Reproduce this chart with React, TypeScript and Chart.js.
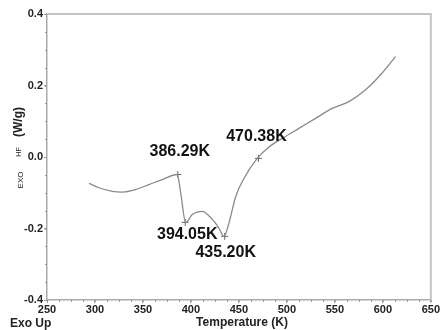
import { useEffect, useRef } from "react";
import { Chart, registerables } from "chart.js";
Chart.register(...registerables);

const temperatures = [293.8, 304.2, 318.0, 328.4, 342.4, 356.3, 370.1, 385.7, 389.3, 394.5, 401.4, 411.8, 420.8, 429.0, 434.4, 439.6, 446.6, 455.2, 469.1, 481.3, 495.1, 512.5, 529.9, 547.2, 564.6, 582.0, 599.3, 613.2];
const heatFlow = [-0.074, -0.086, -0.096, -0.098, -0.091, -0.077, -0.063, -0.049, -0.100, -0.183, -0.161, -0.152, -0.170, -0.198, -0.222, -0.185, -0.111, -0.060, -0.004, 0.028, 0.052, 0.080, 0.108, 0.136, 0.155, 0.188, 0.235, 0.281];
const markerTemps = [386.29, 394.05, 435.2, 470.38];
const markerFlows = [-0.049, -0.183, -0.222, -0.004];
const markerLabels = ["386.29K", "394.05K", "435.20K", "470.38K"];
const xTicks = [250, 300, 350, 400, 450, 500, 550, 600, 650];
const yTicks = [-0.4, -0.2, 0.0, 0.2, 0.4];

const FONT = "'Liberation Sans', Arial, sans-serif";

export default function App() {
  const ref = useRef<HTMLCanvasElement | null>(null);
  useEffect(() => {
    document.body.style.margin = "0";
    const canvas = ref.current;
    if (!canvas) return;
    const labelOffsets = [
      [2, -23],
      [2, 12],
      [1, 16],
      [-2, -22],
    ];
    const overlay = {
      id: "overlay",
      afterDraw(chart: any) {
        const ctx = chart.ctx;
        const xs = chart.scales.x;
        const ys = chart.scales.y;
        const a = chart.chartArea;
        ctx.save();
        // top and right border
        ctx.strokeStyle = "#c4c4c4";
        ctx.lineWidth = 2;
        ctx.beginPath();
        ctx.moveTo(a.left, a.top);
        ctx.lineTo(a.right, a.top);
        ctx.lineTo(a.right, a.bottom);
        ctx.stroke();
        // minor ticks
        ctx.strokeStyle = "#999";
        ctx.lineWidth = 1;
        ctx.beginPath();
        for (let v = 250; v <= 650; v += 12.5) {
          const px = Math.round(xs.getPixelForValue(v)) + 0.5;
          ctx.moveTo(px, a.bottom);
          ctx.lineTo(px, a.bottom + 2);
        }
        for (let v = -0.4; v <= 0.4001; v += 0.05) {
          const py = Math.round(ys.getPixelForValue(v)) + 0.5;
          ctx.moveTo(a.left, py);
          ctx.lineTo(a.left - 2, py);
        }
        ctx.stroke();
        // annotations
        ctx.fillStyle = "#111";
        ctx.font = `bold 16px ${FONT}`;
        ctx.textAlign = "center";
        ctx.textBaseline = "middle";
        markerLabels.forEach((t, i) => {
          const px = xs.getPixelForValue(markerTemps[i]);
          const py = ys.getPixelForValue(markerFlows[i]);
          ctx.fillText(t, px + labelOffsets[i][0], py + labelOffsets[i][1]);
        });
        // titles
        ctx.fillStyle = "#222";
        ctx.font = `bold 12px ${FONT}`;
        ctx.textAlign = "center";
        ctx.fillText("Temperature (K)", 242, 323);
        ctx.textAlign = "left";
        ctx.fillText("Exo Up", 10, 324);
        // y title rotated
        ctx.save();
        ctx.translate(19, 0);
        ctx.rotate(-Math.PI / 2);
        ctx.textAlign = "center";
        ctx.font = `bold 12px ${FONT}`;
        ctx.fillText("(W/g)", -122, 0);
        ctx.font = `7px ${FONT}`;
        ctx.fillText("HF", -152, 0);
        ctx.restore();
        ctx.save();
        ctx.translate(21, 0);
        ctx.rotate(-Math.PI / 2);
        ctx.textAlign = "center";
        ctx.font = `8px ${FONT}`;
        ctx.fillText("EXO", -180, 0);
        ctx.restore();
        ctx.restore();
      },
    };
    const chart = new Chart(canvas, {
      type: "scatter",
      data: {
        datasets: [
          {
            data: temperatures.map((t, i) => ({ x: t, y: heatFlow[i] })),
            showLine: true,
            borderColor: "#8a8a8a",
            borderWidth: 1.3,
            pointRadius: 0,
            cubicInterpolationMode: "monotone",
            fill: false,
          },
          {
            data: markerTemps.map((t, i) => ({ x: t, y: markerFlows[i] })),
            showLine: false,
            pointStyle: "cross",
            pointRadius: 3.5,
            borderColor: "#666",
            borderWidth: 1,
          },
        ],
      },
      options: {
        responsive: false,
        animation: false,
        devicePixelRatio: 1,
        layout: { padding: { left: 0, top: 14, right: 8, bottom: 0 }, autoPadding: false },
        plugins: { legend: { display: false }, tooltip: { enabled: false } },
        scales: {
          x: {
            type: "linear",
            min: 250,
            max: 650,
            afterBuildTicks: (s: any) => {
              s.ticks = xTicks.map((v) => ({ value: v }));
            },
            afterFit: (s: any) => {
              s.height = 30;
            },
            grid: { drawOnChartArea: false, drawTicks: true, tickLength: 3, color: "#999" },
            border: { color: "#aaa", width: 1.5 },
            ticks: {
              padding: 0,
              maxRotation: 0,
              autoSkip: false,
              color: "#222",
              font: { family: FONT, size: 11, weight: "bold" },
            },
          },
          y: {
            type: "linear",
            min: -0.4,
            max: 0.4,
            afterBuildTicks: (s: any) => {
              s.ticks = yTicks.map((v) => ({ value: v }));
            },
            afterFit: (s: any) => {
              s.width = 47;
            },
            grid: { drawOnChartArea: false, drawTicks: true, tickLength: 3, color: "#999" },
            border: { color: "#aaa", width: 1.5 },
            ticks: {
              padding: 1,
              autoSkip: false,
              color: "#222",
              font: { family: FONT, size: 11, weight: "bold" },
              callback: (v: any) => Number(v).toFixed(1),
            },
          },
        },
      },
      plugins: [overlay],
    } as any);
    return () => chart.destroy();
  }, []);
  return <canvas ref={ref} width={440} height={330} style={{ display: "block" }} />;
}
